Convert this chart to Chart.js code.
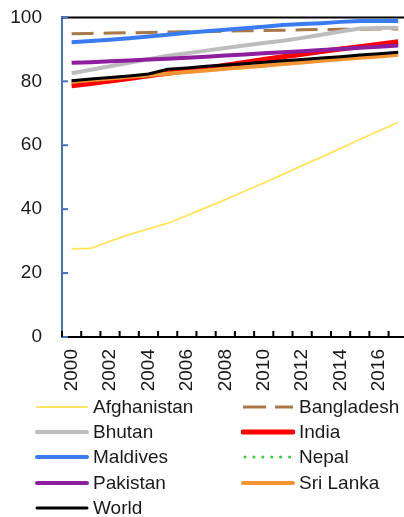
<!DOCTYPE html>
<html>
<head>
<meta charset="utf-8">
<style>
    body { margin: 0; background: #fff; overflow: hidden; font-family: "Liberation Sans", Arial, sans-serif; }
    #wrap { position: relative; width: 404px; height: 517px; overflow: hidden; }
    #myChart { position: absolute; left: 0; top: -14px; }
    #legend { position: absolute; left: 35px; top: 394px; width: 369px; display: grid;
              grid-template-columns: 206px 163px; grid-auto-rows: 25.3px; }
    .item { display: flex; align-items: center; font-size: 19px; color: #1a1a1a; white-space: nowrap; }
    .item svg { margin-right: 4px; flex: none; }
</style>
</head>
<body>
<div id="wrap">
    <canvas id="myChart" width="433" height="412"></canvas>
    <div id="legend"></div>
</div>
<script src="https://cdn.jsdelivr.net/npm/chart.js@4.4.1/dist/chart.umd.min.js"></script>
<script>
    // years on the x axis
    const years = ['2000', '2001', '2002', '2003', '2004', '2005', '2006', '2007', '2008',
                   '2009', '2010', '2011', '2012', '2013', '2014', '2015', '2016', '2017']
    const yTicks = [0, 20, 40, 60, 80, 100]

    // values
    const afghanistan = [27.6, 27.7, 30.0, 32.0, 33.8, 35.6, 38.0, 40.5, 43.0, 45.6, 48.2, 50.9, 53.6, 56.3, 59.0, 61.8, 64.5, 67.2]
    const bangladesh = [94.9, 95.0, 95.1, 95.2, 95.3, 95.4, 95.5, 95.6, 95.7, 95.8, 95.9, 96.0, 96.1, 96.2, 96.3, 96.3, 96.4, 96.4]
    const bhutan = [82.5, 83.6, 84.7, 85.8, 86.9, 88.0, 88.8, 89.6, 90.4, 91.2, 92.0, 92.7, 93.6, 94.6, 95.6, 96.5, 96.7, 96.8]
    const india = [78.6, 79.3, 80.1, 80.9, 81.7, 82.5, 83.3, 84.1, 85.0, 85.9, 86.8, 87.7, 88.5, 89.3, 90.1, 90.8, 91.6, 92.4]
    const maldives = [92.2, 92.6, 93.0, 93.5, 94.0, 94.6, 95.2, 95.7, 96.1, 96.6, 97.1, 97.6, 97.9, 98.2, 98.6, 98.9, 98.9, 98.9]
    const nepal = [79.6, 80.1, 80.6, 81.1, 81.6, 82.2, 82.7, 83.2, 83.7, 84.2, 84.7, 85.2, 85.7, 86.2, 86.7, 87.2, 87.6, 88.1]
    const pakistan = [85.8, 86.0, 86.3, 86.5, 86.8, 87.1, 87.4, 87.7, 88.1, 88.4, 88.8, 89.1, 89.4, 89.8, 90.1, 90.5, 90.8, 91.2]
    const sriLanka = [79.9, 80.4, 80.9, 81.4, 81.9, 82.4, 82.9, 83.4, 83.9, 84.4, 84.9, 85.4, 85.9, 86.4, 86.9, 87.4, 87.8, 88.3]
    const world = [80.2, 80.7, 81.2, 81.7, 82.3, 83.8, 84.2, 84.7, 85.1, 85.5, 86.0, 86.4, 86.8, 87.3, 87.7, 88.2, 88.6, 89.1]

    const series = [
        { label: 'Afghanistan', data: afghanistan, color: '#FFE45C', width: 1.8, dash: [], key: '' },
        { label: 'Bangladesh', data: bangladesh, color: '#A8784A', width: 3, dash: [22, 10], key: '23 9' },
        { label: 'Bhutan', data: bhutan, color: '#BDBDBD', width: 4, dash: [], key: '' },
        { label: 'India', data: india, color: '#FF0000', width: 5, dash: [], key: '' },
        { label: 'Maldives', data: maldives, color: '#3B7BF0', width: 4, dash: [], key: '' },
        { label: 'Nepal', data: nepal, color: '#3DCC3D', width: 2, dash: [2, 6], key: '0.1 8.8' },
        { label: 'Pakistan', data: pakistan, color: '#8E1E9E', width: 4, dash: [], key: '' },
        { label: 'Sri Lanka', data: sriLanka, color: '#F39433', width: 4, dash: [], key: '' },
        { label: 'World', data: world, color: '#000000', width: 3, dash: [], key: '' }
    ]

    // short ticks that point into the plot, plus the black line at 100
    const innerTicks = {
        id: 'innerTicks',
        afterDatasetsDraw(chart) {
            const { ctx, chartArea, scales } = chart
            const x = scales.x, y = scales.y
            ctx.save()
            ctx.lineWidth = 2
            ctx.strokeStyle = '#000'
            const top = y.getPixelForValue(100)
            ctx.beginPath()
            ctx.moveTo(chartArea.left, top)
            ctx.lineTo(chartArea.right + 10, top)
            ctx.stroke()
            ctx.strokeStyle = '#4472C4'
            yTicks.forEach(v => {
                const py = y.getPixelForValue(v)
                ctx.beginPath()
                ctx.moveTo(chartArea.left, py)
                ctx.lineTo(chartArea.left + 6, py)
                ctx.stroke()
            })
            ctx.strokeStyle = '#000'
            const half = (x.getPixelForValue(1) - x.getPixelForValue(0)) / 2
            for (let i = 0; i <= years.length; i++) {
                const px = x.getPixelForValue(i) - half
                ctx.beginPath()
                ctx.moveTo(px, chartArea.bottom)
                ctx.lineTo(px, chartArea.bottom - 6)
                ctx.stroke()
            }
            ctx.restore()
        }
    }

    const ctx = document.getElementById('myChart')
    const myChart = new Chart(ctx, {
        type: 'line',
        data: {
            labels: years,
            datasets: series.map((s, i) => ({
                label: s.label,
                data: s.data,
                borderColor: s.color,
                backgroundColor: s.color,
                borderWidth: s.width,
                borderDash: s.dash,
                pointRadius: 0,
                tension: 0,
                fill: false,
                order: series.length - i
            }))
        },
        options: {
            responsive: false,
            animation: false,
            layout: { padding: { top: 4, right: 0 } },
            plugins: {
                legend: { display: false },
                tooltip: { enabled: false }
            },
            scales: {
                x: {
                    offset: true,
                    grid: { color: 'rgba(0,0,0,0)', drawTicks: false, offset: true },
                    border: { display: true, color: '#000', width: 2 },
                    ticks: {
                        autoSkip: false,
                        maxRotation: 90,
                        minRotation: 90,
                        padding: 12,
                        color: '#1a1a1a',
                        font: { family: 'Liberation Sans', size: 19 },
                        callback: function (val, i) { return i % 2 === 0 ? this.getLabelForValue(val) : '' }
                    },
                    afterFit: s => { s.height = 61 }
                },
                y: {
                    min: 0,
                    max: 100,
                    grid: { color: 'rgba(0,0,0,0)', drawTicks: false },
                    border: { display: true, color: '#4472C4', width: 2 },
                    ticks: {
                        stepSize: 20,
                        padding: 20,
                        color: '#1a1a1a',
                        font: { family: 'Liberation Sans', size: 19 }
                    },
                    afterFit: s => { s.width = 62 }
                }
            }
        },
        plugins: [innerTicks]
    });

    // two-column legend built from the same series list
    const legend = document.getElementById('legend')
    series.forEach(s => {
        const item = document.createElement('div')
        item.className = 'item'
        const w = s.label === 'Nepal' ? 3 : Math.max(s.width, 1.8)
        const dash = s.key || 'none'
        const cap = s.key ? (s.label === 'Nepal' ? 'round' : 'butt') : 'round'
        item.innerHTML = '<svg width="54" height="10"><line x1="' + (s.label === 'Nepal' ? 4 : 2) + '" y1="5" x2="52" y2="5" stroke="' + s.color +
            '" stroke-width="' + w + '" stroke-dasharray="' + dash + '" stroke-linecap="' + cap + '"/></svg>' +
            '<span>' + s.label + '</span>'
        legend.appendChild(item)
    })
</script>
</body>
</html>
